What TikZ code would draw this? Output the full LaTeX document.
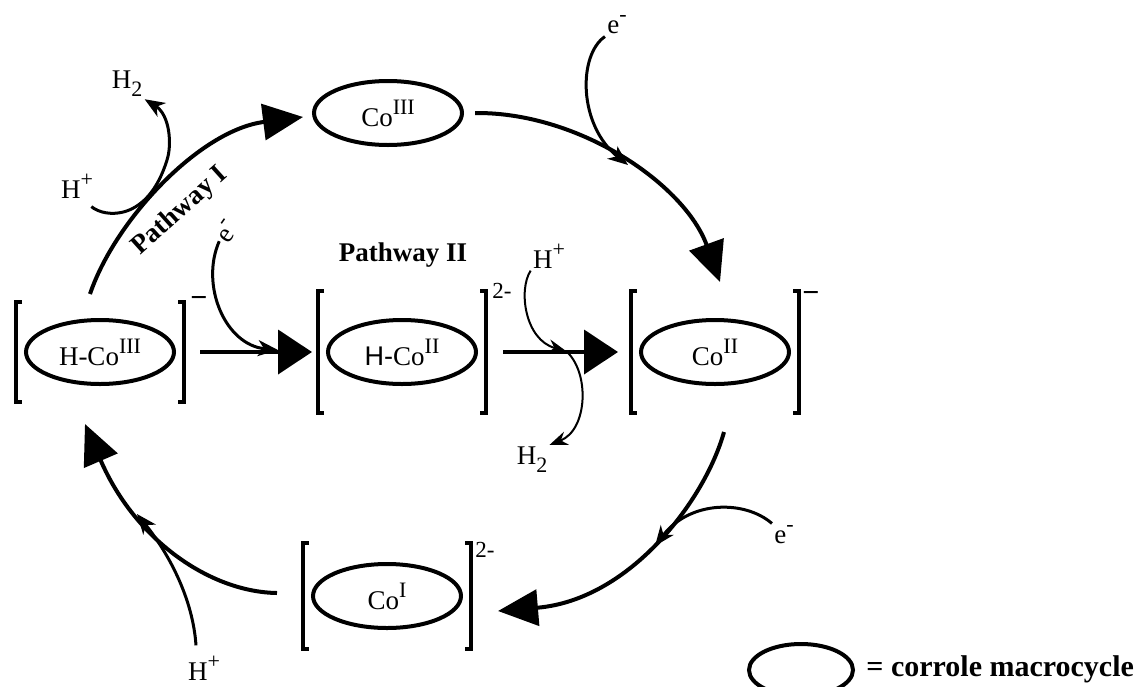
\documentclass[tikz,border=0pt]{standalone}
\usepackage{fontspec}
\setmainfont{Liberation Serif}
\setsansfont{Liberation Sans}
\usetikzlibrary{arrows.meta,shapes.geometric,calc}

\newcommand{\sps}[1]{\raisebox{6pt}{\fontsize{11}{11}\selectfont #1}}
\newcommand{\sbs}[1]{\raisebox{-4pt}{\fontsize{11}{11}\selectfont #1}}
\newcommand{\cage}[2]{%
  \draw[brk] ($(#1)+(-78,-#2)$) -- ++(-6,0) |- ($(#1)+(-78,#2)$);
  \draw[brk] ($(#1)+(78,-#2)$) -- ++(6,0) |- ($(#1)+(78,#2)$);}

\tikzset{
  every node/.style={font=\fontsize{13.5}{16}\selectfont,inner sep=1pt},
  corrole/.style={ellipse,draw,line width=2pt,minimum width=74pt,minimum height=32pt,inner sep=0pt},
  brk/.style={line width=2pt},
  cyc/.style={line width=2pt,-{Triangle[length=20pt,width=18pt]}},
  fwd/.style={line width=2pt,-{Triangle[length=17pt,width=22pt]}},
  feed/.style={line width=1.5pt,-{Stealth[length=10pt,width=8pt,inset=3pt]}},
  thinfeed/.style={line width=1pt,-{Stealth[length=9pt,width=7pt,inset=3pt]}},
  pathlbl/.style={font=\fontsize{13.5}{16}\selectfont\bfseries},
  chg/.style={font=\fontsize{11.5}{12}\selectfont,inner sep=0pt},
  negchg/.style={font=\fontsize{15}{15}\selectfont\bfseries,inner sep=0pt}
}

\begin{document}
\begin{tikzpicture}[x=0.5pt,y=-0.5pt]
\useasboundingbox (0,0) rectangle (1141,686);

\node[corrole] (co3) at (388,113) {Co\sps{III}};
\node[corrole] (hco3) at (100,352) {H-Co\sps{III}};
\node[corrole] (hco2) at (402,352) {{\sffamily H-}Co\sps{II}};
\node[corrole] (co2) at (715,352) {Co\sps{II}};
\node[corrole] (co1) at (387,596) {Co\sps{I}};

\cage{hco3}{50}
\cage{hco2}{61}
\cage{co2}{61}
\cage{co1}{53}

\node[negchg] (q1) at (199,302) {−};
\node[chg] (q2) at (502,291) {2-};
\node[negchg] (q3) at (811,297) {−};
\node[chg] (q4) at (485,550) {2-};

\node (hp1) at (77,186) {H\sps{+}};
\node (h21) at (127,84) {H\sbs{2}};
\node (etop) at (617,25) {e\sps{-}};
\node[rotate=55,inner sep=0pt] (e1) at (227,231) {e\sps{-}};
\node[pathlbl,rotate=42,inner sep=0pt] (pw1) at (180,211) {Pathway I};
\node[pathlbl] (pw2) at (403,255) {Pathway II};
\node (hp2) at (549,256) {H\sps{+}};
\node (h22) at (532,460) {H\sbs{2}};
\node (e3) at (784,535) {e\sps{-}};
\node (hp3) at (204,668) {H\sps{+}};

\coordinate (j1) at (628,165);
\coordinate (j2) at (278,350);
\coordinate (j3) at (566,351);
\coordinate (j4) at (655,546);
\coordinate (j5) at (137,514);

\draw[cyc] ([shift={(-5pt,12pt)}]hco3.north) .. controls (115,220) and (200,130) .. ([shift={(-4.5pt,-2pt)}]co3.west);
\draw[cyc] ([xshift=5.5pt]co3.east) .. controls (580,112) and (685,185) .. ([shift={(2.5pt,18pt)}]co2.north);
\draw[cyc] ([shift={(4.5pt,-23pt)}]co2.south) .. controls (705,500) and (630,600) .. ([shift={(17.5pt,-7.5pt)}]co1.east);
\draw[cyc] ([shift={(-17pt,1.5pt)}]co1.west) .. controls (210,592) and (135,540) .. ([shift={(-7.5pt,-19pt)}]hco3.south);

\draw[fwd] ([xshift=12pt]hco3.east) -- ([xshift=-7pt]hco2.west);
\draw[fwd] ([xshift=12.5pt]hco2.east) -- ([xshift=-10.5pt]co2.west);

\draw[feed] ([shift={(-2pt,-3pt)}]hp1.south east) .. controls (105,218) and (148,222) .. (167,160) .. controls (172,145) and (170,115) .. (h21.south east);
\draw[feed] (etop.south west) .. controls (578,55) and (578,125) .. (j1);
\draw[feed] ([shift={(-1pt,-1pt)}]e1.west) .. controls (200,285) and (225,345) .. (j2);
\draw[thinfeed] (hp2.south west) .. controls (518,290) and (525,340) .. (j3);
\draw[thinfeed] (j3) .. controls (590,372) and (588,430) .. (h22.north east);
\draw[feed] (e3.north west) .. controls (745,500) and (690,500) .. (j4);
\draw[feed] ([shift={(-4pt,4pt)}]hp3.north) .. controls (193,600) and (170,555) .. (j5);

\node[corrole,minimum width=52pt,minimum height=26pt] (leg) at (801,670) {};
\node[anchor=west,font=\fontsize{15}{18}\selectfont\bfseries] (legtxt) at (864,669) {= corrole macrocycle};
\end{tikzpicture}
\end{document}
